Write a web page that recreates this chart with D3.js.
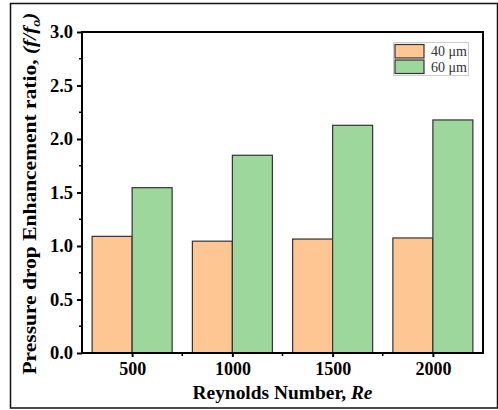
<!DOCTYPE html>
<html><head><meta charset="utf-8">
<script src="https://cdn.jsdelivr.net/npm/d3@7"></script>
<style>body{margin:0;background:#fff}svg{display:block}</style>
</head><body>
<svg id="c" width="498" height="410"></svg>
<script>
const categories = ["500", "1000", "1500", "2000"];
const series40 = [1.09, 1.045, 1.065, 1.075];
const series60 = [1.545, 1.848, 2.128, 2.178];
const seriesNames = ["40 μm", "60 μm"];
const yTicks = [0.0, 0.5, 1.0, 1.5, 2.0, 2.5, 3.0];

const svg = d3.select("#c");
const m = {left: 82, right: 483, top: 32, bottom: 353};
const serif = "'Liberation Serif','Times New Roman',serif";
const colors = ["#FDC692", "#9ED79B"];

svg.append("rect").attr("x", 10.5).attr("y", 3.5).attr("width", 487).attr("height", 404.5)
  .attr("fill", "none").attr("stroke", "#111").attr("stroke-width", 1.5);

const x = d3.scaleLinear().domain([-0.5, categories.length - 0.5]).range([m.left, m.right]);
const y = d3.scaleLinear().domain([0, 3]).range([m.bottom, m.top]);
const barW = 40;

const g = svg.append("g");
const data = categories.map((c, i) => ({c, i, v: [series40[i], series60[i]]}));
data.forEach(d => {
  d.v.forEach((v, k) => {
    g.append("rect")
      .attr("x", x(d.i) - barW + k * barW)
      .attr("y", y(v))
      .attr("width", barW)
      .attr("height", y(0) - y(v))
      .attr("fill", colors[k]).attr("stroke", "#333").attr("stroke-width", 1.2);
  });
});

svg.append("rect").attr("x", m.left).attr("y", m.top).attr("width", m.right - m.left).attr("height", m.bottom - m.top)
  .attr("fill", "none").attr("stroke", "#000").attr("stroke-width", 2);

const yAx = svg.append("g").attr("transform", `translate(${m.left},0)`)
  .call(d3.axisLeft(y).tickValues(yTicks).tickFormat(d3.format(".1f")).tickSize(5).tickPadding(4));
yAx.select(".domain").remove();
yAx.selectAll("line").attr("stroke", "#000").attr("stroke-width", 2);
yAx.selectAll("text").attr("font-family", serif).attr("font-weight", "bold").attr("font-size", 18.5).attr("fill", "#000");
const yMinor = d3.range(0.25, 3, 0.5);
svg.append("g").selectAll("line").data(yMinor).join("line")
  .attr("x1", m.left - 3).attr("x2", m.left).attr("y1", d => y(d)).attr("y2", d => y(d))
  .attr("stroke", "#000").attr("stroke-width", 1.5);

const xAx = svg.append("g").attr("transform", `translate(0,${m.bottom})`)
  .call(d3.axisBottom(x).tickValues(d3.range(categories.length)).tickFormat(i => categories[i]).tickSize(4).tickPadding(5));
xAx.select(".domain").remove();
xAx.selectAll("line").attr("stroke", "#000").attr("stroke-width", 2);
xAx.selectAll("text").attr("font-family", serif).attr("font-weight", "bold").attr("font-size", 18).attr("fill", "#000");
svg.append("g").selectAll("line").data(d3.range(0.5, categories.length - 1, 1)).join("line")
  .attr("x1", d => x(d)).attr("x2", d => x(d)).attr("y1", m.bottom).attr("y2", m.bottom + 3)
  .attr("stroke", "#000").attr("stroke-width", 1.5);

const xt = svg.append("text").attr("x", (m.left + m.right) / 2).attr("y", 399)
  .attr("text-anchor", "middle").attr("font-family", serif).attr("font-weight", "bold").attr("font-size", 18)
  .attr("textLength", 180).attr("lengthAdjust", "spacingAndGlyphs");
xt.append("tspan").text("Reynolds Number, ");
xt.append("tspan").attr("font-style", "italic").text("Re");

const yt = svg.append("text").attr("transform", `translate(36,${(m.top + m.bottom) / 2 + 1}) rotate(-90)`)
  .attr("text-anchor", "middle").attr("font-family", serif).attr("font-weight", "bold").attr("font-size", 18.5)
  .attr("textLength", 362).attr("lengthAdjust", "spacingAndGlyphs");
yt.append("tspan").text("Pressure drop Enhancement ratio, ");
yt.append("tspan").attr("font-style", "italic").text("(f/f");
yt.append("tspan").attr("font-style", "italic").attr("font-size", 12).attr("dy", 4).text("o");
yt.append("tspan").attr("font-style", "italic").attr("dy", -4).text(")");

const lg = svg.append("g");
lg.append("rect").attr("x", 393.5).attr("y", 42.5).attr("width", 75).attr("height", 33)
  .attr("fill", "#fff").attr("stroke", "#ccc").attr("stroke-width", 1);
seriesNames.forEach((n, k) => {
  lg.append("rect").attr("x", 395).attr("y", 44.5 + k * 15.5).attr("width", 29).attr("height", 13.5)
    .attr("fill", colors[k]).attr("stroke", "#333").attr("stroke-width", 1.2);
  lg.append("text").attr("x", 431).attr("y", 56 + k * 15.5).text(n)
    .attr("font-family", serif).attr("font-size", 14).attr("fill", "#333");
});
</script>
</body></html>
